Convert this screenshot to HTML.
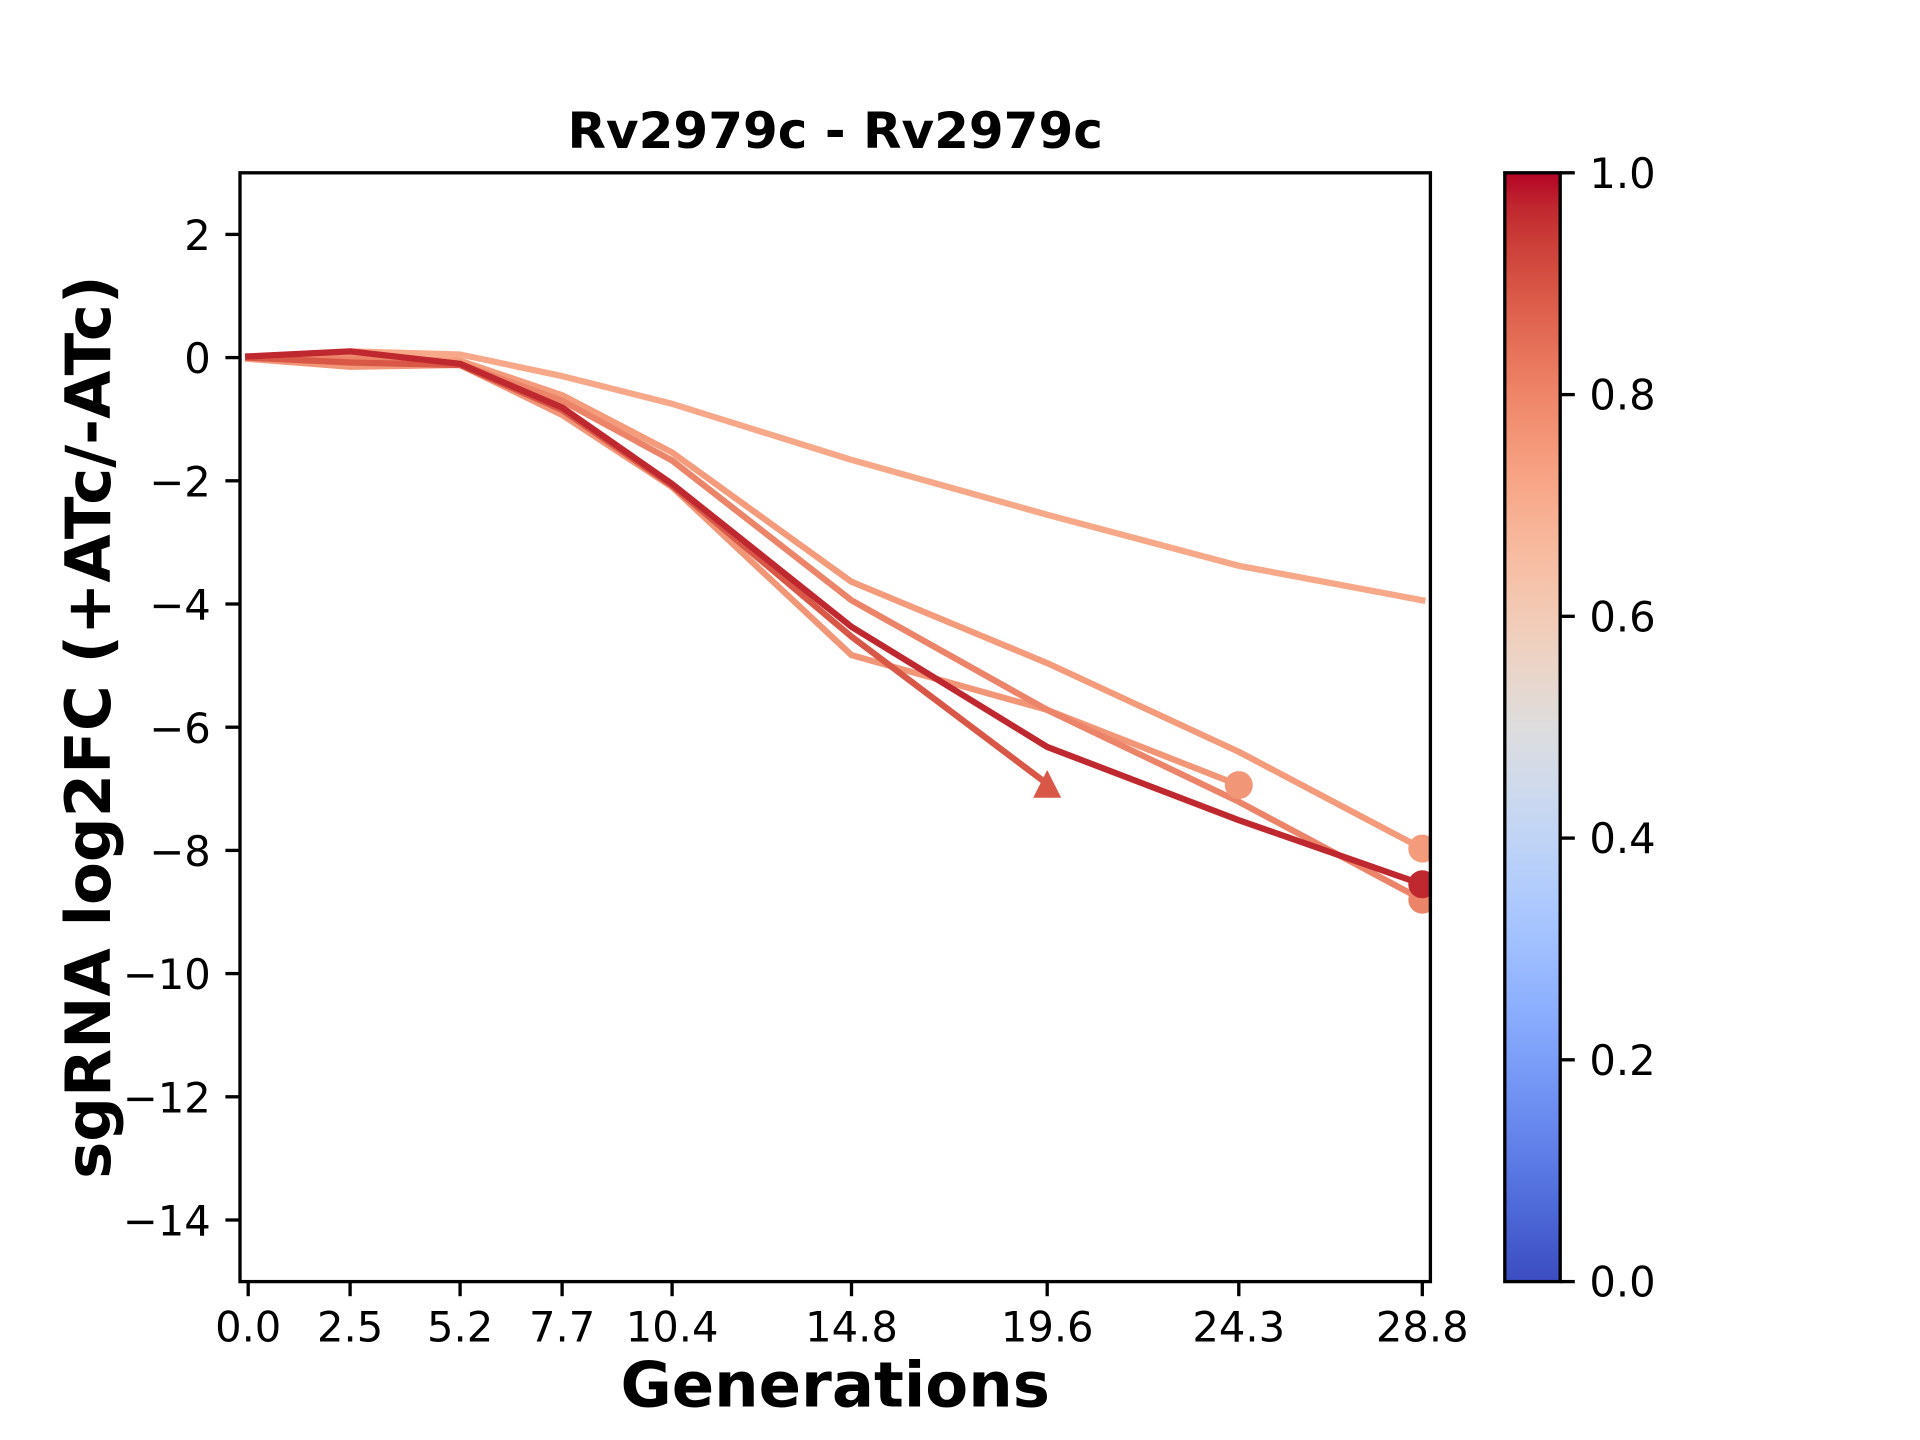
<!DOCTYPE html>
<html>
<head>
<meta charset="utf-8">
<style>
html,body{margin:0;padding:0;background:#fff;}
svg{display:block;}
text{font-family:"DejaVu Sans","Liberation Sans",sans-serif;fill:#000;}
</style>
</head>
<body>
<svg width="1920" height="1440" viewBox="0 0 1920 1440" xmlns="http://www.w3.org/2000/svg">
<defs>
<clipPath id="ax"><rect x="240" y="172.8" width="1190.4" height="1108.8"/></clipPath>
<linearGradient id="cw" x1="0" y1="1" x2="0" y2="0">
<stop offset="0" stop-color="rgb(59,76,192)"/>
<stop offset="0.03125" stop-color="rgb(68,90,204)"/>
<stop offset="0.0625" stop-color="rgb(77,104,215)"/>
<stop offset="0.09375" stop-color="rgb(87,117,225)"/>
<stop offset="0.125" stop-color="rgb(98,130,234)"/>
<stop offset="0.15625" stop-color="rgb(108,142,241)"/>
<stop offset="0.1875" stop-color="rgb(119,154,247)"/>
<stop offset="0.21875" stop-color="rgb(130,165,251)"/>
<stop offset="0.25" stop-color="rgb(141,176,254)"/>
<stop offset="0.28125" stop-color="rgb(152,185,255)"/>
<stop offset="0.3125" stop-color="rgb(163,194,255)"/>
<stop offset="0.34375" stop-color="rgb(174,201,253)"/>
<stop offset="0.375" stop-color="rgb(184,208,249)"/>
<stop offset="0.40625" stop-color="rgb(194,213,244)"/>
<stop offset="0.4375" stop-color="rgb(204,217,238)"/>
<stop offset="0.46875" stop-color="rgb(213,219,230)"/>
<stop offset="0.5" stop-color="rgb(221,221,221)"/>
<stop offset="0.53125" stop-color="rgb(229,216,209)"/>
<stop offset="0.5625" stop-color="rgb(236,211,197)"/>
<stop offset="0.59375" stop-color="rgb(241,204,184)"/>
<stop offset="0.625" stop-color="rgb(245,196,172)"/>
<stop offset="0.65625" stop-color="rgb(247,187,160)"/>
<stop offset="0.6875" stop-color="rgb(247,177,148)"/>
<stop offset="0.71875" stop-color="rgb(247,166,135)"/>
<stop offset="0.75" stop-color="rgb(244,154,123)"/>
<stop offset="0.78125" stop-color="rgb(241,141,111)"/>
<stop offset="0.8125" stop-color="rgb(236,127,99)"/>
<stop offset="0.84375" stop-color="rgb(229,112,88)"/>
<stop offset="0.875" stop-color="rgb(222,96,77)"/>
<stop offset="0.90625" stop-color="rgb(213,80,66)"/>
<stop offset="0.9375" stop-color="rgb(203,62,56)"/>
<stop offset="0.96875" stop-color="rgb(192,40,47)"/>
<stop offset="1" stop-color="rgb(180,4,38)"/>
</linearGradient>
</defs>

<rect width="1920" height="1440" fill="#fff"/>

<!-- data -->
<g clip-path="url(#ax)" fill="none" stroke-width="6.25" stroke-linecap="square" stroke-linejoin="round">
<polyline stroke="rgb(247,168,137)" points="248.2,357.6 350.1,351.4 460.1,354.5 562.1,376.1 672.1,403.8 851.5,459.9 1047.2,514.7 1238.8,565.8 1422.3,600.3"/>
<polyline stroke="rgb(242,150,120)" points="248.2,358.8 350.1,366.8 460.1,365.0 562.1,414.9 672.1,487.0 851.5,655.1 1047.2,709.9 1238.8,785.1"/>
<polyline stroke="rgb(243,155,123)" points="248.2,357.6 350.1,357.6 460.1,360.7 562.1,395.2 672.1,452.5 851.5,581.8 1047.2,663.1 1238.8,751.8 1422.3,848.6"/>
<polyline stroke="rgb(236,132,105)" points="248.2,357.6 350.1,358.8 460.1,363.8 562.1,400.7 672.1,460.5 851.5,600.3 1047.2,709.9 1238.8,801.7 1422.3,899.7"/>
<polyline stroke="rgb(217,87,70)" points="248.2,357.6 350.1,362.5 460.1,365.0 562.1,410.0 672.1,485.7 851.5,636.6 1047.2,783.9"/>
<polyline stroke="rgb(192,40,47)" points="248.2,356.4 350.1,351.4 460.1,363.8 562.1,407.5 672.1,483.9 851.5,626.8 1047.2,746.9 1238.8,820.2 1422.3,884.3"/>
<circle cx="1238.8" cy="785.1" r="14" fill="rgb(242,150,120)" stroke="none"/>
<circle cx="1422.3" cy="848.6" r="14" fill="rgb(243,155,123)" stroke="none"/>
<circle cx="1422.3" cy="899.7" r="14" fill="rgb(236,132,105)" stroke="none"/>
<polygon points="1047.2,770 1033.2,797.8 1061.2,797.8" fill="rgb(217,87,70)" stroke="none"/>
<circle cx="1422.3" cy="884.3" r="14" fill="rgb(192,40,47)" stroke="none"/>
</g>

<!-- axes frame -->
<rect x="240" y="172.8" width="1190.4" height="1108.8" fill="none" stroke="#000" stroke-width="3.33"/>

<!-- y ticks -->
<g stroke="#000" stroke-width="3.33">
<line x1="225.4" y1="234.4" x2="240" y2="234.4"/>
<line x1="225.4" y1="357.6" x2="240" y2="357.6"/>
<line x1="225.4" y1="480.8" x2="240" y2="480.8"/>
<line x1="225.4" y1="604.0" x2="240" y2="604.0"/>
<line x1="225.4" y1="727.2" x2="240" y2="727.2"/>
<line x1="225.4" y1="850.4" x2="240" y2="850.4"/>
<line x1="225.4" y1="973.6" x2="240" y2="973.6"/>
<line x1="225.4" y1="1096.8" x2="240" y2="1096.8"/>
<line x1="225.4" y1="1220.0" x2="240" y2="1220.0"/>
</g>
<g font-size="41.67" text-anchor="end">
<text x="210.8" y="250.0">2</text>
<text x="210.8" y="373.2">0</text>
<text x="210.8" y="496.4">−2</text>
<text x="210.8" y="619.6">−4</text>
<text x="210.8" y="742.8">−6</text>
<text x="210.8" y="866.0">−8</text>
<text x="210.8" y="989.2">−10</text>
<text x="210.8" y="1112.4">−12</text>
<text x="210.8" y="1235.6">−14</text>
</g>

<!-- x ticks -->
<g stroke="#000" stroke-width="3.33">
<line x1="248.2" y1="1281.6" x2="248.2" y2="1296.2"/>
<line x1="350.1" y1="1281.6" x2="350.1" y2="1296.2"/>
<line x1="460.1" y1="1281.6" x2="460.1" y2="1296.2"/>
<line x1="562.1" y1="1281.6" x2="562.1" y2="1296.2"/>
<line x1="672.1" y1="1281.6" x2="672.1" y2="1296.2"/>
<line x1="851.5" y1="1281.6" x2="851.5" y2="1296.2"/>
<line x1="1047.2" y1="1281.6" x2="1047.2" y2="1296.2"/>
<line x1="1238.8" y1="1281.6" x2="1238.8" y2="1296.2"/>
<line x1="1422.3" y1="1281.6" x2="1422.3" y2="1296.2"/>
</g>
<g font-size="41.67" text-anchor="middle">
<text x="248.2" y="1341.7">0.0</text>
<text x="350.1" y="1341.7">2.5</text>
<text x="460.1" y="1341.7">5.2</text>
<text x="562.1" y="1341.7">7.7</text>
<text x="672.1" y="1341.7">10.4</text>
<text x="851.5" y="1341.7">14.8</text>
<text x="1047.2" y="1341.7">19.6</text>
<text x="1238.8" y="1341.7">24.3</text>
<text x="1422.3" y="1341.7">28.8</text>
</g>

<!-- labels -->
<text x="835.2" y="147.8" font-size="50" font-weight="bold" text-anchor="middle">Rv2979c - Rv2979c</text>
<text x="835.2" y="1406.7" font-size="62.5" font-weight="bold" text-anchor="middle">Generations</text>
<text transform="translate(110,727.2) rotate(-90)" font-size="62.5" font-weight="bold" text-anchor="middle">sgRNA log2FC (+ATc/-ATc)</text>

<!-- colorbar -->
<rect x="1504.8" y="172.8" width="55.4" height="1108.8" fill="url(#cw)"/>
<rect x="1504.8" y="172.8" width="55.4" height="1108.8" fill="none" stroke="#000" stroke-width="3.33"/>
<g stroke="#000" stroke-width="3.33">
<line x1="1560.2" y1="1281.6" x2="1574.8" y2="1281.6"/>
<line x1="1560.2" y1="1059.8" x2="1574.8" y2="1059.8"/>
<line x1="1560.2" y1="838.1" x2="1574.8" y2="838.1"/>
<line x1="1560.2" y1="616.3" x2="1574.8" y2="616.3"/>
<line x1="1560.2" y1="394.6" x2="1574.8" y2="394.6"/>
<line x1="1560.2" y1="172.8" x2="1574.8" y2="172.8"/>
</g>
<g font-size="41.67" text-anchor="start">
<text x="1589.4" y="1296.6">0.0</text>
<text x="1589.4" y="1074.8">0.2</text>
<text x="1589.4" y="853.1">0.4</text>
<text x="1589.4" y="631.3">0.6</text>
<text x="1589.4" y="409.6">0.8</text>
<text x="1589.4" y="187.8">1.0</text>
</g>
</svg>
</body>
</html>
